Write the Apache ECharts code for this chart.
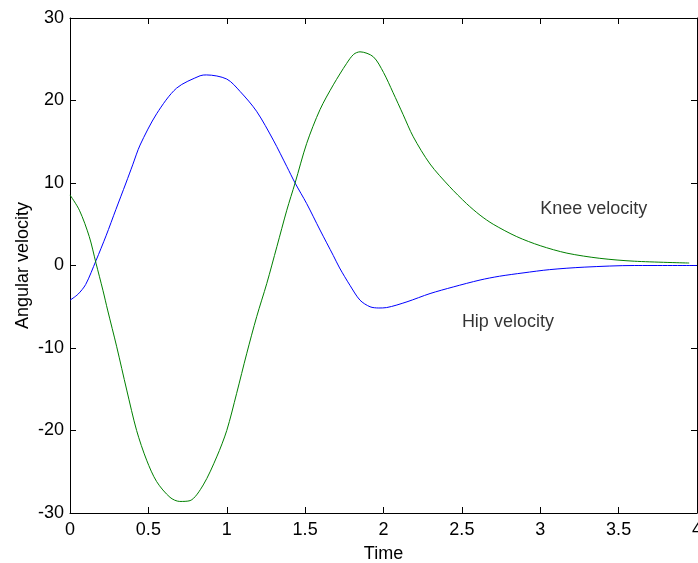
<!DOCTYPE html>
<html>
<head>
<meta charset="utf-8">
<script src="https://cdn.jsdelivr.net/npm/echarts@6/dist/echarts.min.js"></script>
<style>
html,body{margin:0;padding:0;background:#fff;}
#chart{width:698px;height:563px;}
</style>
</head>
<body>
<div id="chart"></div>
<script>
const xTicks = [0, 0.5, 1, 1.5, 2, 2.5, 3, 3.5, 4];
const yTicks = [-30, -20, -10, 0, 10, 20, 30];

const hipTime = [0, 0.05, 0.1, 0.166, 0.23, 0.293, 0.357, 0.4, 0.447, 0.553, 0.68, 0.83, 0.87, 1.0, 1.085, 1.19, 1.297, 1.383, 1.436, 1.51, 1.595, 1.68, 1.72, 1.786, 1.85, 1.914, 1.97, 2.02, 2.15, 2.297, 2.445, 2.616, 2.74, 2.89, 3.06, 3.28, 3.6, 4.0];
const hipVelocity = [-4.2, -3.5, -2.3, 0.6, 3.6, 6.8, 10.0, 12.2, 14.6, 18.4, 21.5, 23.0, 23.1, 22.6, 21.1, 18.7, 15.2, 12.0, 10.0, 7.5, 4.3, 1.2, -0.3, -2.4, -4.2, -5.0, -5.15, -5.1, -4.4, -3.4, -2.6, -1.76, -1.3, -0.9, -0.5, -0.2, 0, 0];

const kneeTime = [0, 0.06, 0.123, 0.166, 0.21, 0.24, 0.298, 0.362, 0.425, 0.489, 0.553, 0.638, 0.70, 0.766, 0.85, 0.936, 1.0, 1.063, 1.127, 1.191, 1.255, 1.32, 1.383, 1.436, 1.51, 1.595, 1.68, 1.765, 1.81, 1.85, 1.935, 2.0, 2.06, 2.125, 2.19, 2.297, 2.42, 2.53, 2.616, 2.70, 2.85, 3.0, 3.17, 3.38, 3.6, 3.95];
const kneeVelocity = [8.55, 6.7, 3.5, 0.27, -3.0, -5.4, -9.85, -15.1, -20.0, -23.6, -26.2, -28.1, -28.6, -28.5, -26.6, -23.2, -20.0, -15.5, -10.7, -6.2, -2.2, 2.3, 6.7, 10.0, 14.8, 18.9, 21.9, 24.5, 25.6, 25.9, 25.3, 23.4, 21.0, 18.3, 15.6, 12.3, 9.6, 7.5, 6.1, 5.0, 3.5, 2.4, 1.5, 0.87, 0.52, 0.3];

const annotationText = ['Knee velocity', 'Hip velocity'];
const annotationTime = [3.0, 2.5];
const annotationValue = [6.9, -6.9];

const FONT = 'Liberation Sans, Arial, sans-serif';
const FS = 18;

function pairs(xs, ys) { return xs.map((x, i) => [x, ys[i]]); }

const chart = echarts.init(document.getElementById('chart'), null, {renderer: 'canvas'});

const axisLine = {show: true, onZero: false, lineStyle: {color: '#000', width: 1}};
const axisTick = {show: true, inside: true, length: 6, lineStyle: {color: '#000', width: 1}};

chart.setOption({
  animation: false,
  backgroundColor: '#fff',
  grid: {left: 70, right: 1, top: 18, bottom: 50, containLabel: false, outerBoundsMode: 'none'},
  xAxis: [{
    type: 'value', min: xTicks[0], max: xTicks[xTicks.length - 1], interval: 0.5,
    position: 'bottom',
    axisLine: axisLine, axisTick: axisTick, splitLine: {show: false},
    axisLabel: {color: '#000', fontFamily: FONT, fontSize: FS, margin: 8, showMaxLabel: true},
    name: 'Time', nameLocation: 'middle', nameGap: 32, nameMoveOverlap: false,
    nameTextStyle: {color: '#000', fontFamily: FONT, fontSize: FS}
  }, {
    type: 'value', min: xTicks[0], max: xTicks[xTicks.length - 1], interval: 0.5,
    position: 'top',
    axisLine: axisLine, axisTick: axisTick, splitLine: {show: false},
    axisLabel: {show: false}
  }],
  yAxis: [{
    type: 'value', min: yTicks[0], max: yTicks[yTicks.length - 1], interval: 10,
    position: 'left',
    axisLine: axisLine, axisTick: axisTick, splitLine: {show: false},
    axisLabel: {color: '#000', fontFamily: FONT, fontSize: FS, margin: 6},
    name: 'Angular velocity', nameLocation: 'middle', nameGap: 38, nameMoveOverlap: false,
    nameTextStyle: {color: '#000', fontFamily: FONT, fontSize: FS}
  }, {
    type: 'value', min: yTicks[0], max: yTicks[yTicks.length - 1], interval: 10,
    position: 'right',
    axisLine: axisLine, axisTick: axisTick, splitLine: {show: false},
    axisLabel: {show: false}
  }],
  series: [{
    name: 'Hip velocity', type: 'line', data: pairs(hipTime, hipVelocity),
    showSymbol: false, smooth: 0.3, lineStyle: {color: '#0000FF', width: 1},
    itemStyle: {color: '#0000FF'}
  }, {
    name: 'Knee velocity', type: 'line', data: pairs(kneeTime, kneeVelocity),
    showSymbol: false, smooth: 0.3, lineStyle: {color: '#008000', width: 1},
    itemStyle: {color: '#008000'}
  }, {
    name: 'labels', type: 'scatter', symbolSize: 0,
    data: annotationText.map((t, i) => ({value: [annotationTime[i], annotationValue[i]], name: t})),
    label: {show: true, position: 'right', distance: 0, formatter: p => p.name,
      color: '#000', fontFamily: FONT, fontSize: FS, align: 'left', verticalAlign: 'middle'},
    silent: true
  }]
});
</script>
</body>
</html>
